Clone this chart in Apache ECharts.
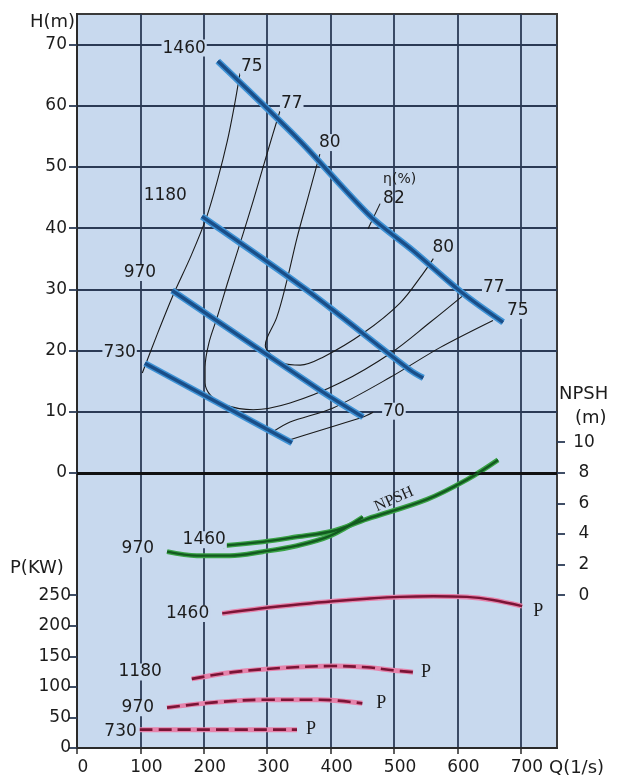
<!DOCTYPE html>
<html><head><meta charset="utf-8">
<script src="https://cdn.jsdelivr.net/npm/echarts@6/dist/echarts.min.js"></script>
<style>html,body{margin:0;padding:0;background:#fff;} #c{width:627px;height:779px;}</style>
</head><body><div id="c"></div>
<script>
// ================= DATA =================
const xTicks = [0, 100, 200, 300, 400, 500, 600, 700];
const hTicks = [0, 10, 20, 30, 40, 50, 60, 70];
const pTicks = [0, 50, 100, 150, 200, 250];
const npshTicks = [0, 2, 4, 6, 8, 10];

// H-Q curves per speed (r/min): [Q (l/s), H (m)]
const hq1460 = [[222, 67.3], [352, 54.2], [462, 42.0], [530, 36.3], [609, 29.3], [672, 24.6]];
const hq1180 = [[197, 41.9], [363, 29.8], [525, 16.8], [546, 15.5]];
const hq970  = [[150, 29.8], [383, 13.5], [451, 9.1]];
const hq730  = [[107, 17.9], [339, 4.9]];

// iso-efficiency curves η(%): [Q, H]
const eff75Left  = [[257, 65.3], [248, 59.9], [237, 54.2], [222, 48.0], [205, 42.0], [180, 35.5], [151, 28.9], [126, 22.5], [103, 16.3]];
const eff75Right = [[309, 6.7], [336, 8.3], [404, 10.6], [494, 15.6], [573, 20.5], [656, 24.9]];
const eff77 = [[320, 59.1], [309, 55.4], [293, 49.8], [278, 44.5], [262, 39.1], [237, 30.9], [221, 25.4], [208, 21.2], [202, 17.3], [202, 14.7], [211, 12.6], [233, 11.1], [278, 10.3], [336, 11.4], [415, 14.7], [494, 19.5], [557, 24.6], [615, 29.5]];
const eff80 = [[383, 52.1], [363, 44.5], [347, 38.4], [331, 31.4], [315, 25.4], [300, 22.1], [297, 20.8], [304, 19.5], [325, 17.9], [352, 17.6], [388, 18.9], [451, 22.8], [509, 27.7], [546, 32.6], [562, 35.0]];
const eff70 = [[336, 5.4], [451, 9.1], [467, 9.9]];
const eff82 = [[459, 39.9], [478, 44.0]];

// NPSH curves: [Q, NPSH (m)]
const npsh970  = [[142, 2.84], [189, 2.58], [241, 2.58], [293, 2.84], [347, 3.23], [399, 3.87], [451, 5.10]];
const npsh1460 = [[230, 3.23], [293, 3.48], [347, 3.81], [404, 4.19], [457, 4.97], [552, 6.26], [615, 7.55], [664, 8.84]];

// Power curves: [Q, P (kW)]
const p1460 = [[229, 220], [289, 228], [352, 235], [404, 240], [457, 244], [509, 247], [562, 248], [615, 247], [656, 242], [702, 232]];
const p1180 = [[181, 113], [246, 124], [325, 131], [404, 134], [457, 132], [498, 127], [530, 124]];
const p970  = [[142, 66], [221, 75], [300, 79], [383, 79], [450, 73]];
const p730  = [[99, 30], [225, 30], [347, 30]];

// ================= STYLE HELPERS =================
const BG = '#c8d9ee';
const GRIDC = '#2b3a55';
const numFont = { fontFamily: 'DejaVu Sans', fontSize: 17, color: '#1c1c1c' };
const serifFont = { fontFamily: 'Liberation Serif', fontSize: 18, color: '#1c1c1c' };

function lbl(text, pos, dist, off, extra) {
  return Object.assign({ show: true, formatter: text, position: pos, distance: dist, offset: off || [0, 0],
    backgroundColor: BG, padding: [0, 1] }, numFont, extra || {});
}
function pts(arr, labels) {
  return arr.map((d, i) => (labels && labels[i]) ? { value: d, label: labels[i] } : d);
}
function line(yAxisIndex, arr, style, labels, smooth, z, extra) {
  return Object.assign({
    type: 'line', xAxisIndex: 0, yAxisIndex: yAxisIndex, data: pts(arr, labels),
    symbol: 'circle', symbolSize: 0, showSymbol: true, showAllSymbol: true,
    smooth: smooth, lineStyle: style, itemStyle: { color: 'rgba(0,0,0,0)', borderWidth: 0 },
    label: { show: false }, emphasis: { disabled: true }, silent: true, z: z, animation: false
  }, extra || {});
}
const thin = { color: '#1a1a1a', width: 1.1 };
const blueU = { color: '#3f93d6', width: 6.5 };
const blueC = { color: '#1a4e88', width: 3.4 };
const greenU = { color: '#3aa346', width: 5 };
const greenC = { color: '#135a20', width: 2.4 };
const pinkU = { color: '#e683ab', width: 5 };
const marC = { color: '#7b1436', width: 2.4 };
const marD = { color: '#7b1436', width: 2.6, type: [13, 6] };

const last = a => a.length - 1;
const series = [];

// efficiency curves (H axis = yAxis 0)
series.push(line(0, eff75Left, thin, { 0: lbl('75', 'right', 0, [0, -7]) }, 0.3, 3));
series.push(line(0, eff75Right, thin, { [last(eff75Right)]: lbl('75', 'right', 13, [0, -10]) }, 0.3, 3));
series.push(line(0, eff77, thin, { 0: lbl('77', 'right', 0, [0, -8]), [last(eff77)]: lbl('77', 'right', 15, [0, -5]) }, 0.35, 3));
series.push(line(0, eff80, thin, { 0: lbl('80', 'top', 3, [10, 0]), [last(eff80)]: lbl('80', 'top', 3, [10, 0]) }, 0.35, 3));
series.push(line(0, eff70, thin, { [last(eff70)]: lbl('70', 'right', 9, [0, -1]) }, 0.2, 3));
series.push(line(0, eff82, thin, { 1: {
  show: true, position: 'right', distance: 3, offset: [0, -15], align: 'left',
  formatter: '{a|η(%)}\n{b|82}', backgroundColor: 'transparent',
  rich: { a: { fontFamily: 'DejaVu Sans', fontSize: 14, color: '#1c1c1c', lineHeight: 19 },
          b: { fontFamily: 'DejaVu Sans', fontSize: 17, color: '#1c1c1c', lineHeight: 19 } }
} }, 0, 3));

// H-Q curves
const hq = [[hq1460, lbl('1460', 'left', 11, [0, -13])], [hq1180, lbl('1180', 'left', 14, [0, -21])],
            [hq970, lbl('970', 'left', 15, [0, -18])], [hq730, lbl('730', 'left', 8, [0, -11])]];
hq.forEach(([d, l]) => {
  series.push(line(0, d, blueU, null, 0.3, 4));
  series.push(line(0, d, blueC, { 0: l }, 0.3, 5));
});
// zero line of H
series[series.length - 1].markLine = { silent: true, symbol: 'none', animation: false,
  label: { show: false }, lineStyle: { color: '#111', width: 3, type: 'solid' }, data: [{ yAxis: 0 }] };

// NPSH curves (yAxis 2)
series.push(line(2, npsh970, greenU, null, 0.35, 4));
series.push(line(2, npsh970, greenC, { 0: lbl('970', 'left', 12, [0, -3]) }, 0.35, 5));
series.push(line(2, npsh1460, greenU, null, 0.35, 4));
series.push(line(2, npsh1460, greenC, {
  0: lbl('1460', 'left', -4, [0, -6]),
  4: Object.assign({ show: true, formatter: 'NPSH', position: 'inside', offset: [33, -7], rotate: 24 },
                   serifFont, { fontSize: 16 })
}, 0.35, 5));

// Power curves (yAxis 1)
const pc = [[p1460, lbl('1460', 'left', 12, [0, 0]), lbl('P', 'right', 10, [0, 5], serifFont), marC],
            [p1180, lbl('1180', 'left', 29, [0, -7]), lbl('P', 'right', 7, [0, 0], serifFont), marD],
            [p970, lbl('970', 'left', 12, [0, 0]), lbl('P', 'right', 13, [0, 0], serifFont), marD],
            [p730, lbl('730', 'left', 2, [0, 2]), lbl('P', 'right', 8, [0, 0], serifFont), marD]];
pc.forEach(([d, l0, l1, st]) => {
  series.push(line(1, d, pinkU, null, 0.35, 4));
  series.push(line(1, d, st, { 0: l0, [last(d)]: l1 }, 0.35, 5));
});

// split-line colours for x: hide the 750 line (border sits at ~757)
const xSplitColors = [];
for (let i = 0; i < 17; i++) xSplitColors.push(i === 15 ? 'rgba(0,0,0,0)' : GRIDC);

const axisText = { fontFamily: 'DejaVu Sans', fontSize: 17, color: '#1c1c1c' };
const onlyIn = list => v => (list.indexOf(Math.round(v * 1000) / 1000) >= 0 ? String(v) : '');

const option = {
  backgroundColor: '#ffffff',
  animation: false,
  grid: { left: 77, right: 70, top: 14, bottom: 31, show: true, backgroundColor: BG,
          borderColor: '#3a3a3a', borderWidth: 2, containLabel: false },
  xAxis: [{
    type: 'value', min: 0, max: 757, interval: 50,
    axisLine: { show: true, onZero: false, lineStyle: { color: '#2a2a2a', width: 2 } },
    axisTick: { show: true, customValues: xTicks, length: 6, lineStyle: { color: '#2a2a2a', width: 1.5 } },
    axisLabel: Object.assign({ customValues: xTicks, formatter: onlyIn(xTicks), margin: 11, padding: [0, 0, 0, 12] }, axisText),
    splitLine: { show: true, lineStyle: { color: xSplitColors, width: 1.8 } },
    name: 'Q(1/s)', nameLocation: 'end', nameGap: -9,
    nameTextStyle: Object.assign({ align: 'left', verticalAlign: 'top', padding: [11, 0, 0, 0] }, axisText, { fontSize: 18 })
  }],
  yAxis: [{
    type: 'value', min: -45, max: 75, interval: 5, position: 'left',
    axisLine: { show: true, onZero: false, lineStyle: { color: '#2a2a2a', width: 2 } },
    axisTick: { show: true, customValues: hTicks, length: 8, lineStyle: { color: GRIDC, width: 1.8 } },
    axisLabel: Object.assign({ customValues: hTicks, formatter: onlyIn(hTicks), margin: 10 }, axisText),
    splitLine: { show: true, lineStyle: { color: GRIDC, width: 1.8 } },
    name: 'H(m)', nameLocation: 'end', nameGap: -8,
    nameTextStyle: Object.assign({ align: 'right', verticalAlign: 'middle', padding: [0, 2, 0, 0] }, axisText, { fontSize: 18 })
  }, {
    type: 'value', min: 0, max: 1200, interval: 50, position: 'left',
    axisLine: { show: false }, splitLine: { show: false },
    axisTick: { show: true, customValues: pTicks, length: 8, lineStyle: { color: GRIDC, width: 1.8 } },
    axisLabel: Object.assign({ customValues: pTicks, formatter: onlyIn(pTicks), margin: 6 }, axisText)
  }, {
    type: 'value', min: -10, max: 38, interval: 2, position: 'right',
    axisLine: { show: false }, splitLine: { show: false },
    axisTick: { show: true, customValues: npshTicks, length: 8, lineStyle: { color: GRIDC, width: 1.8 } },
    axisLabel: Object.assign({ customValues: npshTicks, formatter: onlyIn(npshTicks), margin: 27, align: 'center' }, axisText)
  }],
  graphic: [
    { type: 'text', left: 10, top: 559, silent: true, style: Object.assign({ text: 'P(KW)' }, axisText, { fontSize: 18, fill: '#1c1c1c' }) },
    { type: 'text', left: 559, top: 385, silent: true, style: Object.assign({ text: 'NPSH' }, axisText, { fontSize: 18, fill: '#1c1c1c' }) },
    { type: 'text', left: 575, top: 409, silent: true, style: Object.assign({ text: '(m)' }, axisText, { fontSize: 18, fill: '#1c1c1c' }) }
  ],
  series: series
};

const chart = echarts.init(document.getElementById('c'), null, { renderer: 'canvas' });
chart.setOption(option);
</script>
</body></html>
